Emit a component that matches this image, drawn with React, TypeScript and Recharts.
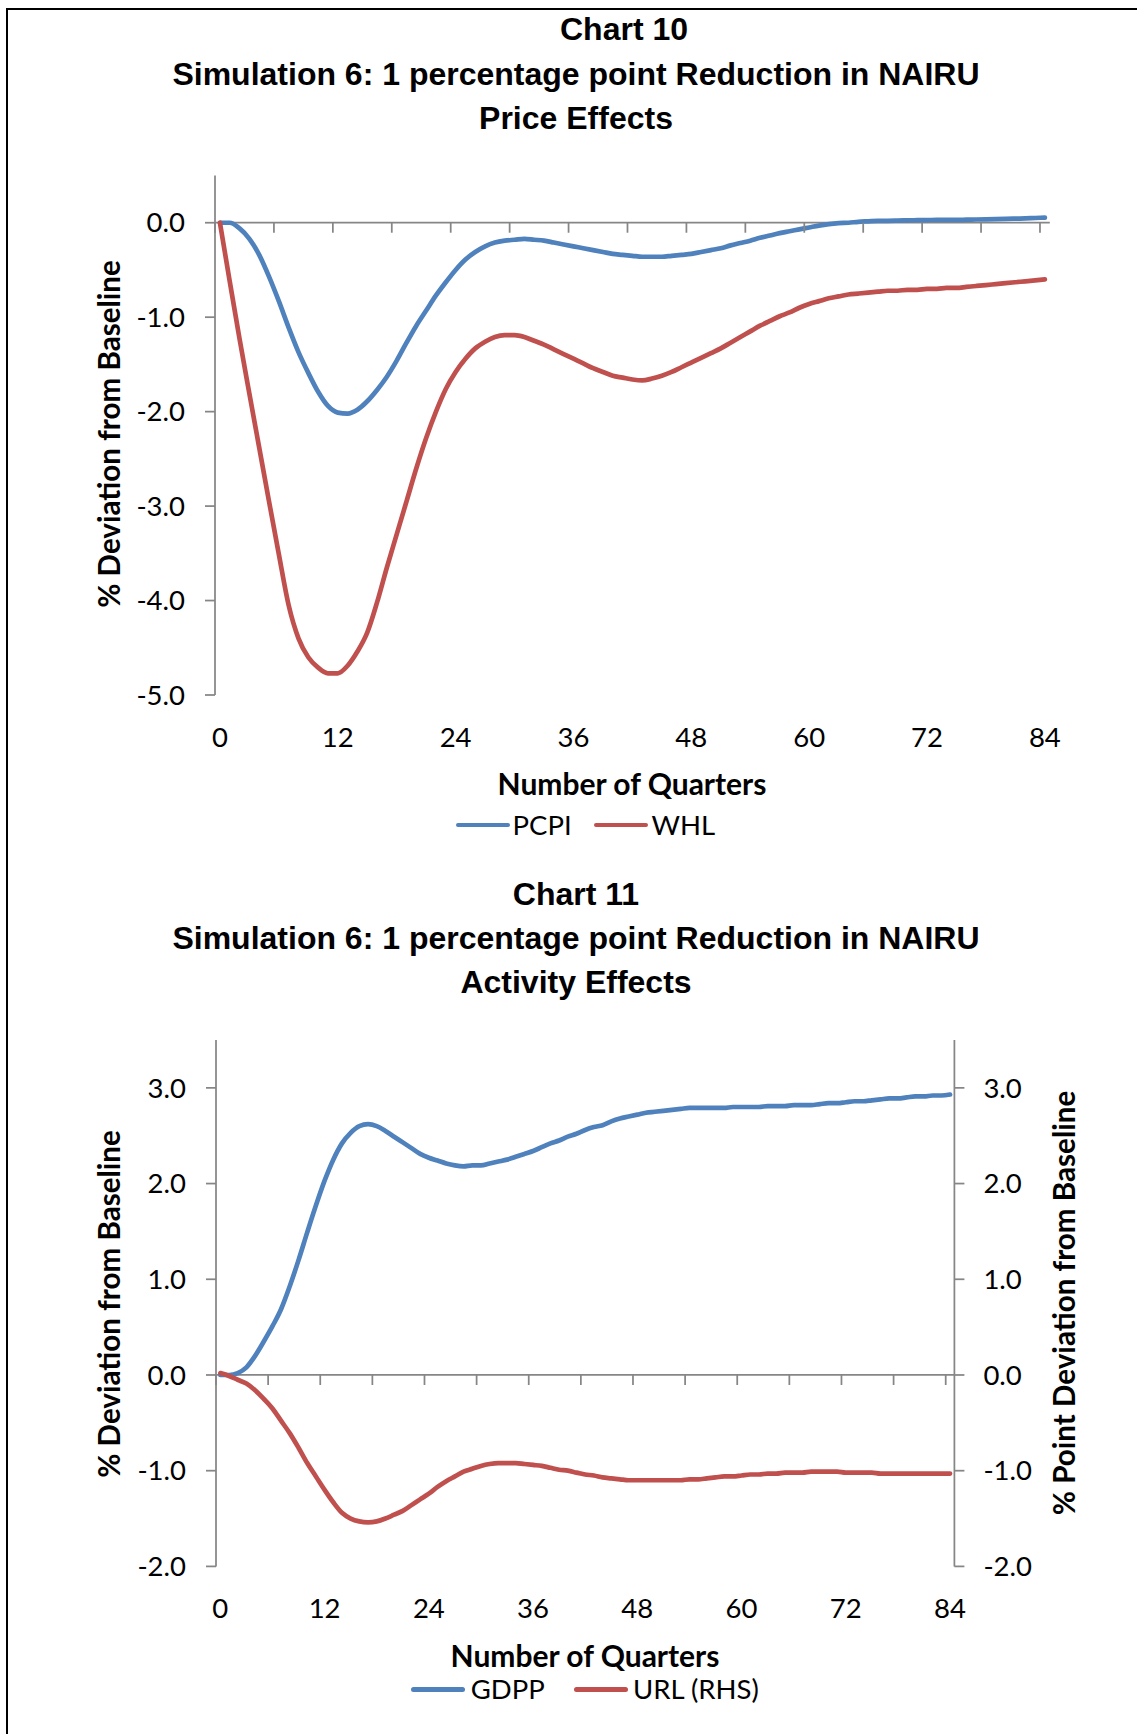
import React from 'react';
import { LineChart, Line, XAxis, YAxis, ReferenceLine } from 'recharts';

// ---------- data ----------
const quarters = [
  0, 1, 2, 3, 4, 5, 6, 7, 8, 9,
  10, 11, 12, 13, 14, 15, 16, 17, 18, 19,
  20, 21, 22, 23, 24, 25, 26, 27, 28, 29,
  30, 31, 32, 33, 34, 35, 36, 37, 38, 39,
  40, 41, 42, 43, 44, 45, 46, 47, 48, 49,
  50, 51, 52, 53, 54, 55, 56, 57, 58, 59,
  60, 61, 62, 63, 64, 65, 66, 67, 68, 69,
  70, 71, 72, 73, 74, 75, 76, 77, 78, 79,
  80, 81, 82, 83, 84,
];

const pcpi = [
  0, 0, -0.06, -0.17, -0.34, -0.57, -0.83, -1.11, -1.37, -1.59,
  -1.79, -1.94, -2.01, -2.02, -1.98, -1.89, -1.77, -1.63, -1.46, -1.27,
  -1.09, -0.93, -0.77, -0.63, -0.5, -0.39, -0.31, -0.25, -0.21, -0.19,
  -0.18, -0.17, -0.18, -0.19, -0.21, -0.23, -0.25, -0.27, -0.29, -0.31,
  -0.33, -0.34, -0.35, -0.36, -0.36, -0.36, -0.35, -0.34, -0.33, -0.31,
  -0.29, -0.27, -0.24, -0.215, -0.19, -0.16, -0.135, -0.11, -0.09, -0.07,
  -0.05, -0.03, -0.015, -0.005, 0.0, 0.01, 0.015, 0.02, 0.02, 0.022,
  0.025, 0.027, 0.028, 0.03, 0.03, 0.03, 0.032, 0.034, 0.036, 0.038,
  0.04, 0.043, 0.046, 0.05, 0.055,
];

const whl = [
  0, -0.62, -1.23, -1.81, -2.38, -2.95, -3.51, -4.05, -4.4, -4.6,
  -4.71, -4.77, -4.77, -4.69, -4.54, -4.34, -4.02, -3.65, -3.3, -2.95,
  -2.6, -2.28, -2.0, -1.76, -1.58, -1.44, -1.33, -1.26, -1.21, -1.19,
  -1.19, -1.21, -1.25, -1.29, -1.34, -1.39, -1.44, -1.49, -1.54, -1.58,
  -1.62, -1.64, -1.66, -1.67, -1.65, -1.62, -1.58, -1.53, -1.48, -1.43,
  -1.38, -1.33, -1.27, -1.21, -1.15, -1.09, -1.04, -0.99, -0.95, -0.9,
  -0.86, -0.83, -0.8, -0.78, -0.76, -0.75, -0.74, -0.73, -0.72, -0.72,
  -0.71, -0.71, -0.7, -0.7, -0.69, -0.69, -0.68, -0.67, -0.66, -0.65,
  -0.64, -0.63, -0.62, -0.61, -0.6,
];

const gdpp = [
  0, 0, 0.02, 0.08, 0.2, 0.35, 0.51, 0.69, 0.93, 1.2,
  1.49, 1.77, 2.03, 2.25, 2.42, 2.53, 2.6, 2.62, 2.6, 2.55,
  2.49, 2.43, 2.37, 2.31, 2.27, 2.24, 2.21, 2.19, 2.18, 2.19,
  2.19, 2.21, 2.23, 2.25, 2.28, 2.31, 2.34, 2.38, 2.42, 2.45,
  2.49, 2.52, 2.56, 2.59, 2.61, 2.65, 2.68, 2.7, 2.72, 2.74,
  2.75, 2.76, 2.77, 2.78, 2.79, 2.79, 2.79, 2.79, 2.79, 2.8,
  2.8, 2.8, 2.8, 2.81, 2.81, 2.81, 2.82, 2.82, 2.82, 2.83,
  2.84, 2.84, 2.85, 2.86, 2.86, 2.87, 2.88, 2.89, 2.89, 2.9,
  2.91, 2.91, 2.92, 2.92, 2.93,
];

const url = [
  0.02, -0.01, -0.05, -0.09, -0.16, -0.25, -0.35, -0.48, -0.61, -0.76,
  -0.92, -1.06, -1.2, -1.33, -1.44, -1.5, -1.53, -1.54, -1.53, -1.5,
  -1.46, -1.42, -1.36, -1.3, -1.24, -1.17, -1.11, -1.06, -1.01, -0.98,
  -0.95, -0.93, -0.92, -0.92, -0.92, -0.93, -0.94, -0.95, -0.97, -0.99,
  -1.0, -1.02, -1.04, -1.05, -1.07, -1.08, -1.09, -1.1, -1.1, -1.1,
  -1.1, -1.1, -1.1, -1.1, -1.09, -1.09, -1.08, -1.07, -1.06, -1.06,
  -1.05, -1.04, -1.04, -1.03, -1.03, -1.02, -1.02, -1.02, -1.01, -1.01,
  -1.01, -1.01, -1.02, -1.02, -1.02, -1.02, -1.03, -1.03, -1.03, -1.03,
  -1.03, -1.03, -1.03, -1.03, -1.03,
];

const priceTicks = [-5, -4, -3, -2, -1, 0];
const activityTicks = [-2, -1, 0, 1, 2, 3];
const xMarkQuarters = [0, 6, 12, 18, 24, 30, 36, 42, 48, 54, 60, 66, 72, 78, 84];
const xLabelQuarters = [0, 12, 24, 36, 48, 60, 72, 84];

const priceData = quarters.map((q, i) => ({ q, pcpi: pcpi[i], whl: whl[i] }));
const activityData = quarters.map((q, i) => ({ q, gdpp: gdpp[i], url: url[i] }));

// ---------- styles ----------
const BLUE = '#4F81BD';
const RED = '#C0504D';
const AXIS = '#868686';
const LABEL_FONT = 'Lato, "Open Sans", sans-serif';
const TITLE_FONT = '"Liberation Sans", Arial, sans-serif';
const TICK_SIZE = 27.5;
const LINE_W = 4.7;

const W = 1137;

// chart 10 layout
const C10 = { top: 0, height: 870, plotLeft: 215, plotRight: 1049.8, plotTop: 175.5, plotBottom: 695, yMin: -5, yMax: 0.5 };
// chart 11 layout (relative to its own block)
const C11 = { top: 870, height: 864, plotLeft: 216, plotRight: 954.4, plotTop: 170, plotBottom: 696.4, yMin: -2, yMax: 3.5 };

const Y_AXIS_W = 80;
const X_AXIS_H = 40;

function zeroY(c: any) {
  return c.plotTop + ((c.yMax - 0) / (c.yMax - c.yMin)) * (c.plotBottom - c.plotTop);
}
function band(c: any) {
  return (c.plotRight - c.plotLeft) / quarters.length;
}

function renderXTick(props: any, c: any, labelY: number) {
  const { x, payload } = props;
  const v = payload.value;
  const z = zeroY(c);
  const left = x - band(c) / 2;
  return (
    <g>
      {xMarkQuarters.includes(v) && (
        <line x1={left} x2={left} y1={z} y2={z + 10} stroke={AXIS} strokeWidth={1.75} />
      )}
      {xLabelQuarters.includes(v) && (
        <text x={x} y={labelY + 9.9} textAnchor="middle" fontFamily={LABEL_FONT} fontSize={TICK_SIZE} fill="#000">
          {v}
        </text>
      )}
    </g>
  );
}

const yTickStyle = { fill: '#000', fontSize: TICK_SIZE, fontFamily: LABEL_FONT };
const fmt = (v: number) => v.toFixed(1);

function CenterText({ cx, cy, text, size, bold, font, rotate }: any) {
  return (
    <div
      style={{
        position: 'absolute',
        left: cx,
        top: cy,
        transform: `translate(-50%, -50%)${rotate ? ' rotate(-90deg)' : ''}`,
        whiteSpace: 'nowrap',
        fontFamily: font,
        fontSize: size,
        fontWeight: bold ? 700 : 400,
        lineHeight: `${Math.round(size * 1.15)}px`,
        color: '#000',
      }}
    >
      {text}
    </div>
  );
}

function LegendRow({ left, cy, items }: any) {
  return (
    <div style={{ position: 'absolute', left, top: cy - 16, height: 32, display: 'flex', alignItems: 'center' }}>
      {items.map((it: any, i: number) => (
        <React.Fragment key={it.name}>
          <div style={{ width: 54, height: 4.7, borderRadius: 3, background: it.color, marginLeft: i === 0 ? 0 : it.gapBefore }} />
          <span style={{ marginLeft: it.textGap, fontFamily: LABEL_FONT, fontSize: TICK_SIZE, color: '#000', lineHeight: '32px' }}>{it.name}</span>
        </React.Fragment>
      ))}
    </div>
  );
}

export default function App() {
  return (
    <div style={{ position: 'absolute', left: 0, top: 0, width: W, height: 1734, background: '#fff', overflow: 'hidden' }}>
      <div style={{ position: 'absolute', left: 6, top: 8, width: 1300, height: 1900, borderLeft: '2px solid #000', borderTop: '2px solid #000' }} />

      {/* Chart 10 titles */}
      <CenterText cx={624} cy={28.5} text="Chart 10" size={32} bold font={TITLE_FONT} />
      <CenterText cx={576} cy={73.5} text="Simulation 6: 1 percentage point Reduction in NAIRU" size={32} bold font={TITLE_FONT} />
      <CenterText cx={576} cy={117.5} text="Price Effects" size={32} bold font={TITLE_FONT} />

      <div style={{ position: 'absolute', left: 0, top: C10.top }}>
        <LineChart
          width={W}
          height={C10.height}
          data={priceData}
          margin={{
            top: C10.plotTop,
            left: C10.plotLeft - Y_AXIS_W,
            right: W - C10.plotRight,
            bottom: C10.height - C10.plotBottom - X_AXIS_H,
          }}
        >
          <XAxis
            dataKey="q"
            type="category"
            scale="band"
            interval={0}
            height={X_AXIS_H}
            axisLine={false}
            tickLine={false}
            tick={(p: any) => renderXTick(p, C10, 736.7 - C10.top)}
          />
          <YAxis
            type="number"
            domain={[C10.yMin, C10.yMax]}
            ticks={priceTicks}
            allowDataOverflow
            width={Y_AXIS_W}
            tickFormatter={fmt}
            axisLine={{ stroke: AXIS, strokeWidth: 1.75 }}
            tickLine={{ stroke: AXIS, strokeWidth: 1.75 }}
            tickSize={10}
            tickMargin={20}
            tick={yTickStyle}
          />
          <ReferenceLine y={0} stroke={AXIS} strokeWidth={1.75} />
          <Line type="monotone" dataKey="pcpi" name="PCPI" stroke={BLUE} strokeWidth={LINE_W} dot={false} isAnimationActive={false} strokeLinecap="round" />
          <Line type="monotone" dataKey="whl" name="WHL" stroke={RED} strokeWidth={LINE_W} dot={false} isAnimationActive={false} strokeLinecap="round" />
        </LineChart>
      </div>

      <CenterText cx={108.5} cy={434} text="% Deviation from Baseline" size={29.6} bold font={LABEL_FONT} rotate />
      <CenterText cx={632} cy={783.3} text="Number of Quarters" size={30} bold font={LABEL_FONT} />
      <LegendRow
        left={455.5}
        cy={825}
        items={[
          { name: 'PCPI', color: BLUE, textGap: 3, gapBefore: 0 },
          { name: 'WHL', color: RED, textGap: 4, gapBefore: 22 },
        ]}
      />

      {/* Chart 11 titles */}
      <CenterText cx={576} cy={894} text="Chart 11" size={32} bold font={TITLE_FONT} />
      <CenterText cx={576} cy={938} text="Simulation 6: 1 percentage point Reduction in NAIRU" size={32} bold font={TITLE_FONT} />
      <CenterText cx={576} cy={982} text="Activity Effects" size={32} bold font={TITLE_FONT} />

      <div style={{ position: 'absolute', left: 0, top: C11.top }}>
        <LineChart
          width={W}
          height={C11.height}
          data={activityData}
          margin={{
            top: C11.plotTop,
            left: C11.plotLeft - Y_AXIS_W,
            right: W - C11.plotRight - Y_AXIS_W,
            bottom: C11.height - C11.plotBottom - X_AXIS_H,
          }}
        >
          <XAxis
            dataKey="q"
            type="category"
            scale="band"
            interval={0}
            height={X_AXIS_H}
            axisLine={false}
            tickLine={false}
            tick={(p: any) => renderXTick(p, C11, 1608.5 - C11.top)}
          />
          <YAxis
            yAxisId="left"
            type="number"
            domain={[C11.yMin, C11.yMax]}
            ticks={activityTicks}
            allowDataOverflow
            width={Y_AXIS_W}
            tickFormatter={fmt}
            axisLine={{ stroke: AXIS, strokeWidth: 1.75 }}
            tickLine={{ stroke: AXIS, strokeWidth: 1.75 }}
            tickSize={10}
            tickMargin={20}
            tick={yTickStyle}
          />
          <YAxis
            yAxisId="right"
            orientation="right"
            type="number"
            domain={[C11.yMin, C11.yMax]}
            ticks={activityTicks}
            allowDataOverflow
            width={Y_AXIS_W}
            tickFormatter={fmt}
            axisLine={{ stroke: AXIS, strokeWidth: 1.75 }}
            tickLine={{ stroke: AXIS, strokeWidth: 1.75 }}
            tickSize={10}
            tickMargin={19}
            tick={yTickStyle}
          />
          <ReferenceLine y={0} yAxisId="left" stroke={AXIS} strokeWidth={1.75} />
          <Line yAxisId="left" type="monotone" dataKey="gdpp" name="GDPP" stroke={BLUE} strokeWidth={LINE_W} dot={false} isAnimationActive={false} strokeLinecap="round" />
          <Line yAxisId="right" type="monotone" dataKey="url" name="URL (RHS)" stroke={RED} strokeWidth={LINE_W} dot={false} isAnimationActive={false} strokeLinecap="round" />
        </LineChart>
      </div>

      <CenterText cx={109} cy={1304} text="% Deviation from Baseline" size={29.6} bold font={LABEL_FONT} rotate />
      <CenterText cx={1064} cy={1303} text="% Point Deviation from Baseline" size={29.6} bold font={LABEL_FONT} rotate />
      <CenterText cx={585} cy={1655} text="Number of Quarters" size={30} bold font={LABEL_FONT} />
      <LegendRow
        left={411}
        cy={1689.3}
        items={[
          { name: 'GDPP', color: BLUE, textGap: 5.7, gapBefore: 0 },
          { name: 'URL (RHS)', color: RED, textGap: 5.4, gapBefore: 29 },
        ]}
      />
    </div>
  );
}
